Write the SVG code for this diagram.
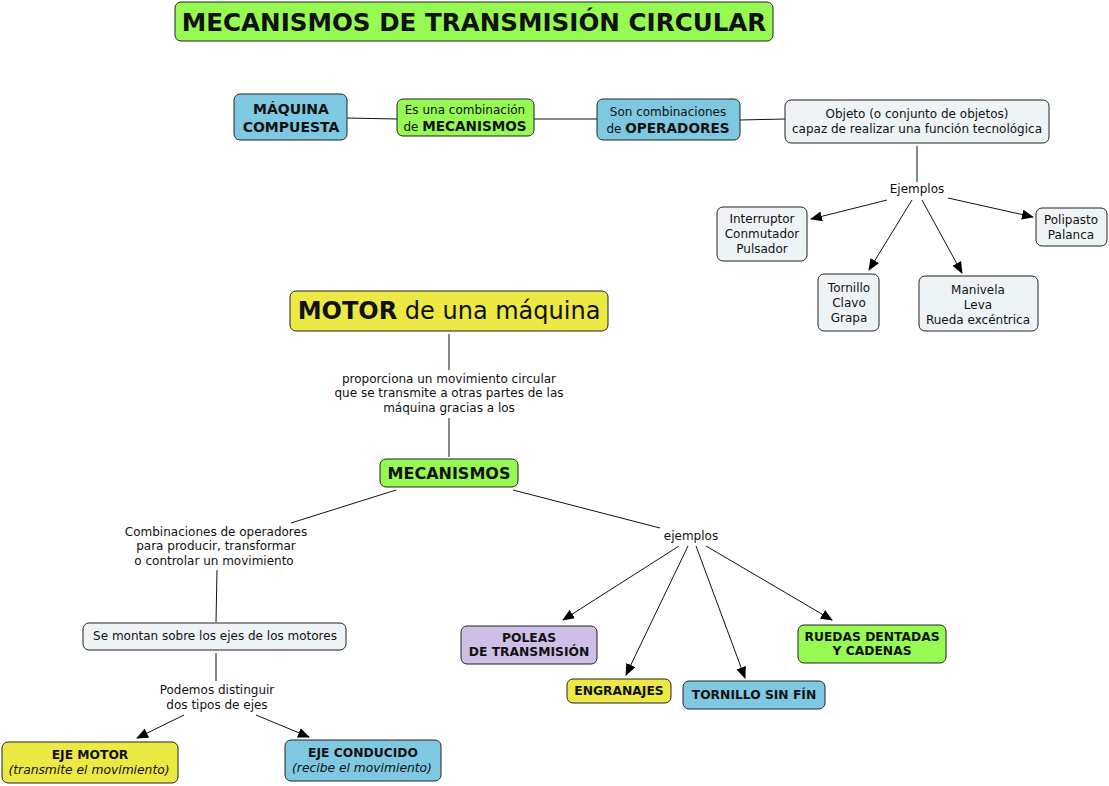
<svg xmlns="http://www.w3.org/2000/svg" width="1109" height="786" viewBox="0 0 1109 786">
<style>
.n{stroke:#222;stroke-width:1;}
.g{fill:#96fa52;}
.b{fill:#7ec8e2;}
.y{fill:#ece944;}
.l{fill:#eef4f6;}
.p{fill:#cfbee6;}
text{font-family:"DejaVu Sans","Verdana",sans-serif;fill:#111;text-anchor:middle;}
.t{font-size:12px;}
.bd{font-size:14px;font-weight:bold;}
.s{font-size:12.3px;font-weight:bold;}
.c line{stroke:#111;stroke-width:1;}
.c .a{marker-end:url(#ah);}
</style>
<defs>
<marker id="ah" viewBox="0 0 12 10" refX="11" refY="5" markerWidth="12" markerHeight="10" markerUnits="userSpaceOnUse" orient="auto">
<path d="M0,0 L12,5 L0,10 z" fill="#000"/>
</marker>
</defs>
<rect width="1109" height="786" fill="#fff"/>
<g class="c">
<line x1="347" y1="118" x2="397" y2="119"/>
<line x1="534" y1="119" x2="597" y2="119"/>
<line x1="740" y1="120" x2="785" y2="119"/>
<line x1="917" y1="146" x2="917" y2="182"/>
<line class="a" x1="887" y1="200" x2="811" y2="219"/>
<line class="a" x1="912" y1="200" x2="869" y2="270"/>
<line class="a" x1="922" y1="200" x2="962" y2="273"/>
<line class="a" x1="948" y1="198" x2="1033" y2="217"/>
<line x1="449" y1="334" x2="449" y2="370"/>
<line x1="449" y1="418" x2="449" y2="457"/>
<line x1="396" y1="490" x2="291" y2="523"/>
<line x1="217" y1="570" x2="216" y2="622"/>
<line x1="216" y1="653" x2="216" y2="681"/>
<line class="a" x1="184" y1="715" x2="137" y2="738"/>
<line class="a" x1="256" y1="715" x2="309" y2="737"/>
<line x1="513" y1="490" x2="660" y2="528"/>
<line class="a" x1="679" y1="546" x2="563" y2="620"/>
<line class="a" x1="688" y1="546" x2="626" y2="675"/>
<line class="a" x1="696" y1="546" x2="745" y2="678"/>
<line class="a" x1="706" y1="546" x2="832" y2="620"/>
</g>
<g id="title">
<rect class="n g" x="175" y="2" width="598" height="39" rx="6"/>
<text x="474" y="31" style="font-size:24.6px;font-weight:bold">MECANISMOS DE TRANSMISIÓN CIRCULAR</text>
</g>
<g id="maquina">
<rect class="n b" x="234" y="94" width="113" height="46" rx="6"/>
<text class="bd" x="291" y="114">MÁQUINA</text>
<text class="bd" x="291" y="132">COMPUESTA</text>
</g>
<g id="combinacion">
<rect class="n g" x="397" y="99" width="137" height="37" rx="6"/>
<text class="t" x="465" y="114">Es una combinación</text>
<text x="465" y="131" style="font-size:12px">de <tspan style="font-size:13.6px;font-weight:bold">MECANISMOS</tspan></text>
</g>
<g id="operadores">
<rect class="n b" x="597" y="99" width="143" height="41" rx="6"/>
<text class="t" x="668" y="116">Son combinaciones</text>
<text x="668" y="133" style="font-size:12px">de <tspan style="font-size:13.6px;font-weight:bold">OPERADORES</tspan></text>
</g>
<g id="objeto">
<rect class="n l" x="785" y="100" width="264" height="43" rx="6"/>
<text class="t" x="917" y="118">Objeto (o conjunto de objetos)</text>
<text class="t" x="917" y="133">capaz de realizar una función tecnológica</text>
</g>
<g id="ejemplos1">
<text class="t" x="917" y="193">Ejemplos</text>
</g>
<g id="interruptor">
<rect class="n l" x="717" y="207" width="90" height="54" rx="6"/>
<text class="t" x="762" y="223">Interruptor</text>
<text class="t" x="762" y="238">Conmutador</text>
<text class="t" x="762" y="253">Pulsador</text>
</g>
<g id="tornillo">
<rect class="n l" x="818" y="274" width="61" height="57" rx="6"/>
<text class="t" x="849" y="292">Tornillo</text>
<text class="t" x="849" y="307">Clavo</text>
<text class="t" x="849" y="322">Grapa</text>
</g>
<g id="manivela">
<rect class="n l" x="919" y="276" width="119" height="55" rx="6"/>
<text class="t" x="978" y="294">Manivela</text>
<text class="t" x="978" y="309">Leva</text>
<text class="t" x="978" y="324">Rueda excéntrica</text>
</g>
<g id="polipasto">
<rect class="n l" x="1036" y="208" width="71" height="38" rx="6"/>
<text class="t" x="1071" y="224">Polipasto</text>
<text class="t" x="1071" y="239">Palanca</text>
</g>
<g id="motor">
<rect class="n y" x="290" y="291" width="318" height="40" rx="6"/>
<text x="449" y="319" style="font-size:24px"><tspan style="font-weight:bold">MOTOR</tspan> de una máquina</text>
</g>
<g id="proporciona">
<text class="t" x="449" y="383">proporciona un movimiento circular</text>
<text class="t" x="449" y="397">que se transmite a otras partes de las</text>
<text class="t" x="449" y="412">máquina gracias a los</text>
</g>
<g id="mecanismos">
<rect class="n g" x="380" y="459" width="138" height="28" rx="6"/>
<text x="449" y="479" style="font-size:16px;font-weight:bold">MECANISMOS</text>
</g>
<g id="combinaciones">
<text class="t" x="216" y="536">Combinaciones de operadores</text>
<text class="t" x="216" y="550">para producir, transformar</text>
<text class="t" x="214" y="565">o controlar un movimiento</text>
</g>
<g id="montan">
<rect class="n l" x="83" y="623" width="263" height="27" rx="6"/>
<text class="t" x="215" y="640">Se montan sobre los ejes de los motores</text>
</g>
<g id="podemos">
<text class="t" x="217" y="694">Podemos distinguir</text>
<text class="t" x="217" y="709">dos tipos de ejes</text>
</g>
<g id="ejemotor">
<rect class="n y" x="2" y="742" width="176" height="41" rx="6"/>
<text class="s" x="90" y="759">EJE MOTOR</text>
<text x="89" y="774" style="font-size:12.3px;font-style:italic">(transmite el movimiento)</text>
</g>
<g id="ejeconducido">
<rect class="n b" x="285" y="740" width="156" height="41" rx="6"/>
<text class="s" x="363" y="757">EJE CONDUCIDO</text>
<text x="362" y="772" style="font-size:12.3px;font-style:italic">(recibe el movimiento)</text>
</g>
<g id="ejemplos2">
<text class="t" x="691" y="540">ejemplos</text>
</g>
<g id="poleas">
<rect class="n p" x="461" y="626" width="136" height="38" rx="6"/>
<text class="s" x="529" y="642">POLEAS</text>
<text class="s" x="529" y="656">DE TRANSMISIÓN</text>
</g>
<g id="engranajes">
<rect class="n y" x="567" y="679" width="104" height="24" rx="6"/>
<text class="s" x="619" y="695">ENGRANAJES</text>
</g>
<g id="sinfin">
<rect class="n b" x="683" y="681" width="142" height="28" rx="6"/>
<text class="s" x="754" y="699">TORNILLO SIN FÍN</text>
</g>
<g id="ruedas">
<rect class="n g" x="798" y="625" width="148" height="38" rx="6"/>
<text class="s" x="872" y="641">RUEDAS DENTADAS</text>
<text class="s" x="872" y="655">Y CADENAS</text>
</g>
</svg>
